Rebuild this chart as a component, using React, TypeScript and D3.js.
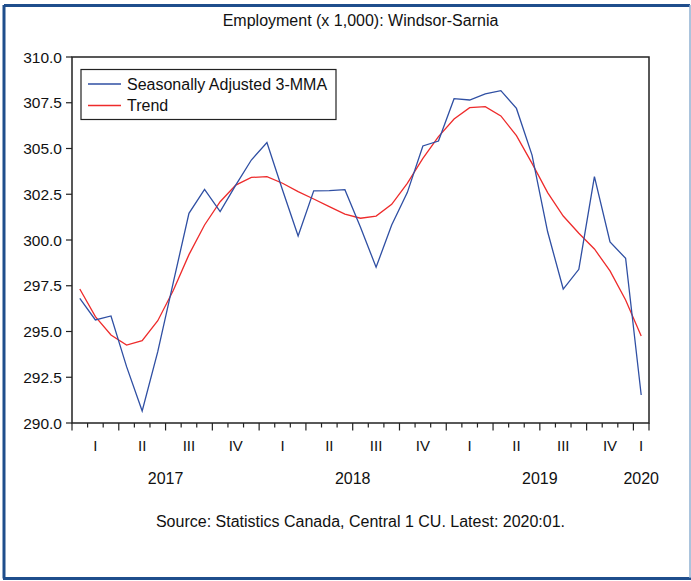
import React from "react";
import * as d3 from "d3";

const months: string[] = [
  "2017-01","2017-02","2017-03","2017-04","2017-05","2017-06","2017-07","2017-08","2017-09","2017-10","2017-11","2017-12",
  "2018-01","2018-02","2018-03","2018-04","2018-05","2018-06","2018-07","2018-08","2018-09","2018-10","2018-11","2018-12",
  "2019-01","2019-02","2019-03","2019-04","2019-05","2019-06","2019-07","2019-08","2019-09","2019-10","2019-11","2019-12",
  "2020-01",
];

const seasonallyAdjusted: number[] = [
  296.81, 295.63, 295.85, 293.08, 290.66, 293.9, 297.7, 301.46, 302.77, 301.55, 303.0, 304.37,
  305.32, 302.73, 300.22, 302.69, 302.7, 302.75, 300.7, 298.51, 300.82, 302.59, 305.14, 305.41,
  307.72, 307.65, 307.98, 308.16, 307.19, 304.64, 300.45, 297.32, 298.4, 303.46, 299.89, 299.0,
  291.53,
];

const trend: number[] = [
  297.32, 295.81, 294.81, 294.26, 294.5, 295.59, 297.25, 299.2, 300.82, 302.09, 303.0, 303.42,
  303.46, 303.1, 302.64, 302.24, 301.82, 301.42, 301.19, 301.31, 301.95, 303.1, 304.46, 305.65,
  306.61, 307.23, 307.29, 306.78, 305.7, 304.19, 302.59, 301.31, 300.37, 299.51, 298.31, 296.72,
  294.75,
];

const yTicks: number[] = [290, 292.5, 295, 297.5, 300, 302.5, 305, 307.5, 310];
const quarterLabels: { label: string; pos: number }[] = [
  { label: "I", pos: 1.5 }, { label: "II", pos: 4.5 }, { label: "III", pos: 7.5 }, { label: "IV", pos: 10.5 },
  { label: "I", pos: 13.5 }, { label: "II", pos: 16.5 }, { label: "III", pos: 19.5 }, { label: "IV", pos: 22.5 },
  { label: "I", pos: 25.5 }, { label: "II", pos: 28.5 }, { label: "III", pos: 31.5 }, { label: "IV", pos: 34.5 },
  { label: "I", pos: 36.5 },
];
const yearLabels: { label: string; pos: number }[] = [
  { label: "2017", pos: 6 },
  { label: "2018", pos: 18 },
  { label: "2019", pos: 30 },
  { label: "2020", pos: 36.5 },
];

const seriesNames = ["Seasonally Adjusted 3-MMA", "Trend"];
const title = "Employment (x 1,000): Windsor-Sarnia";
const source = "Source: Statistics Canada, Central 1 CU. Latest: 2020:01.";

const W = 691;
const H = 581;
const L = 72;
const R = 649;
const T = 57;
const B = 423;
const FONT = "'Liberation Sans', Arial, sans-serif";
const BLUE = "#2f4fa3";
const RED = "#ee2b2b";

export default function App() {
  const x = d3.scaleLinear().domain([0, months.length]).range([L, R]);
  const y = d3.scaleLinear().domain([290, 310]).range([B, T]);
  const line = d3
    .line<number>()
    .x((_, i) => x(i + 0.5))
    .y((v) => y(v));

  const monthTicks = d3.range(0, months.length + 1);
  const cx = (L + R) / 2;

  return (
    <svg
      width={W}
      height={H}
      style={{ position: "absolute", left: 0, top: 0, background: "#fff" }}
      fontFamily={FONT}
    >
      {/* outer frame */}
      <line x1={4} y1={5.5} x2={690} y2={5.5} stroke="#1f4e8c" strokeWidth={3} />
      <line x1={4} y1={5} x2={4} y2={578.5} stroke="#1f4e8c" strokeWidth={3} />
      <line x1={3} y1={578.5} x2={691} y2={578.5} stroke="#1f4e8c" strokeWidth={3} />
      <line x1={690} y1={5} x2={690} y2={578} stroke="#8fb0d2" strokeWidth={1.5} />

      <text x={cx} y={26} textAnchor="middle" fontSize={16} fill="#111">
        {title}
      </text>

      {/* plot frame */}
      <rect x={L} y={T} width={R - L} height={B - T} fill="none" stroke="#222" strokeWidth={1.5} />

      {/* y axis ticks */}
      {yTicks.map((t) => (
        <g key={t}>
          <line x1={L - 6} x2={L} y1={y(t)} y2={y(t)} stroke="#222" strokeWidth={1.2} />
          <text x={L - 10} y={y(t)} dy="0.36em" textAnchor="end" fontSize={15.5} fill="#111">
            {t.toFixed(1)}
          </text>
        </g>
      ))}

      {/* x axis ticks */}
      {monthTicks.map((k) => (
        <line
          key={k}
          x1={x(k)}
          x2={x(k)}
          y1={B}
          y2={B + (k % 3 === 0 || k === months.length ? 7.5 : 4.5)}
          stroke="#222"
          strokeWidth={1.2}
        />
      ))}
      {quarterLabels.map((q, i) => (
        <text key={i} x={x(q.pos)} y={451} textAnchor="middle" fontSize={15} fill="#111">
          {q.label}
        </text>
      ))}
      {yearLabels.map((q) => (
        <text key={q.label} x={x(q.pos)} y={483.5} textAnchor="middle" fontSize={16} fill="#111">
          {q.label}
        </text>
      ))}

      {/* lines */}
      <path d={line(trend) || ""} fill="none" stroke={RED} strokeWidth={1.3} />
      <path d={line(seasonallyAdjusted) || ""} fill="none" stroke={BLUE} strokeWidth={1.3} />

      {/* legend */}
      <rect x={81} y={69.5} width={255} height={50} fill="#fff" stroke="#222" strokeWidth={1.2} />
      <line x1={88} x2={121} y1={84} y2={84} stroke={BLUE} strokeWidth={1.3} />
      <text x={127} y={89.5} fontSize={16} fill="#111">
        {seriesNames[0]}
      </text>
      <line x1={88} x2={121} y1={105.5} y2={105.5} stroke={RED} strokeWidth={1.3} />
      <text x={127} y={111} fontSize={16} fill="#111">
        {seriesNames[1]}
      </text>

      <text x={cx} y={527} textAnchor="middle" fontSize={16} fill="#111">
        {source}
      </text>
    </svg>
  );
}
